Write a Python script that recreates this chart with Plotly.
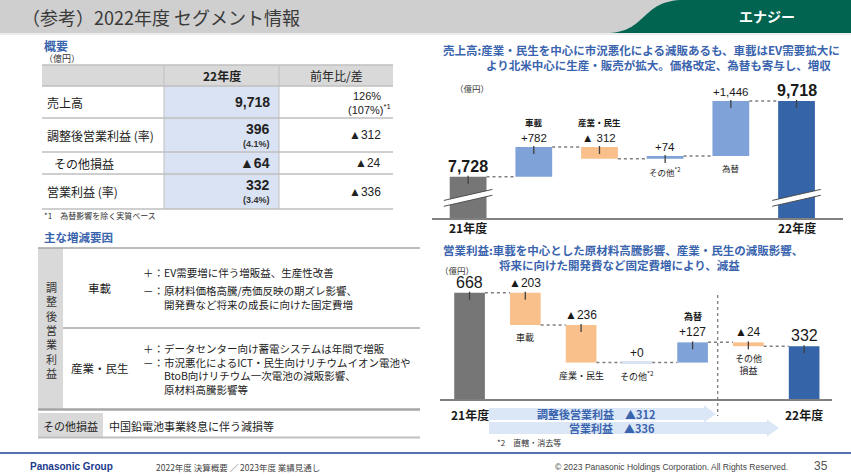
import plotly.graph_objects as go

W, H = 851, 476

# ---------------- data ----------------
sales_steps = ["21年度", "車載", "産業・民生", "その他", "為替", "22年度"]
sales_values = [7728, 782, -312, 74, 1446, 9718]
sales_measure = ["absolute", "relative", "relative", "relative", "relative", "total"]
sales_names = ["", "車載", "産業・民生", "その他<sup>*2</sup>", "為替", ""]
sales_name_pos = ["", "above", "above", "below", "below", ""]

op_steps = ["21年度", "車載", "産業・民生", "その他", "為替", "その他損益", "22年度"]
op_values = [668, -203, -236, 0, 127, -24, 332]
op_measure = ["absolute", "relative", "relative", "relative", "relative", "relative", "total"]
op_names = ["", "車載", "産業・民生", "その他<sup>*2</sup>", "為替", "その他<br>損益", ""]
op_name_pos = ["", "below", "below", "below", "above", "below", ""]

summary_labels = ["売上高", "調整後営業利益 (率)", "その他損益", "営業利益 (率)"]
summary_fy22 = ["9,718", "396", "▲64", "332"]
summary_rate = ["", "(4.1%)", "", "(3.4%)"]
summary_yoy = ["126%", "▲312", "▲24", "▲336"]
summary_yoy_sub = ["(107%)<sup>*1</sup>", "", "", ""]

factor_rows = ["車載", "産業・民生"]
factor_blocks = [
    ["＋：EV需要増に伴う増販益、生産性改善",
     "－：原材料価格高騰/売価反映の期ズレ影響、<br>　　開発費など将来の成長に向けた固定費増"],
    ["＋：データセンター向け蓄電システムは年間で増販<br>"
     "－：市況悪化によるICT・民生向けリチウムイオン電池や<br>"
     "　　BtoB向けリチウム一次電池の減販影響、<br>"
     "　　原材料高騰影響等"],
]

C_GRAY, C_UP, C_DOWN, C_TOTAL, C_ZERO = "#767676", "#7fa3d8", "#fac08c", "#3664a8", "#dae3f3"
C_TITLE = "#3a64ad"
FONT = "Liberation Sans, Noto Sans CJK JP, sans-serif"
JFONT = "Noto Sans CJK JP, sans-serif"


def X(px):
    return px / W


def Y(py):
    return 1 - py / H


def waterfall(values, measure, floor):
    starts, ends, level = [], [], 0
    for v, m in zip(values, measure):
        if m == "absolute":
            s, e = floor, v
            level = v
        elif m == "total":
            s, e = floor, level
        else:
            s, e = level, level + v
            level = e
        starts.append(s)
        ends.append(e)
    return starts, ends


def fmt(v, m, sep):
    if m in ("absolute", "total"):
        return f"{v:,}"
    return f"+{v:,}" if v >= 0 else f"▲{sep}{abs(v):,}"


annotations = []
shapes = []


def txt(x, y, text, size, color="#222", xanchor="left", yanchor="middle",
        xref="paper", yref="paper", family=FONT, yshift=0, align="left"):
    annotations.append(dict(x=x, y=y, text=text, xref=xref, yref=yref, showarrow=False,
                            xanchor=xanchor, yanchor=yanchor, yshift=yshift, align=align,
                            font=dict(size=size, color=color, family=family)))


def rect(x0, y0, x1, y1, fill, layer="below"):
    shapes.append(dict(type="rect", xref="paper", yref="paper", x0=X(x0), x1=X(x1),
                       y0=Y(y0), y1=Y(y1), fillcolor=fill, line=dict(width=0), layer=layer))


def hline(x0, x1, y, color, width):
    shapes.append(dict(type="line", xref="paper", yref="paper", x0=X(x0), x1=X(x1),
                       y0=Y(y), y1=Y(y), line=dict(color=color, width=width), layer="below"))


def vline(x, y0, y1, color, width, dash="solid"):
    shapes.append(dict(type="line", xref="paper", yref="paper", x0=X(x), x1=X(x),
                       y0=Y(y0), y1=Y(y1), line=dict(color=color, width=width, dash=dash),
                       layer="below"))


def path_px(points):
    d = "M " + " L ".join(f"{X(a):.5f},{Y(b):.5f}" for a, b in points) + " Z"
    return d


fig = go.Figure()

# chart configs
charts = [
    dict(values=sales_values, measure=sales_measure, names=sales_names, pos=sales_name_pos,
         xa="x", ya="y", yrange=[6642, 10060], dom_px=(218, 88), width=0.56, sep=" ",
         tot_bold=True, rel_size=11.5, name_size=8.5, broken=True, tick_px=227),
    dict(values=op_values, measure=op_measure, names=op_names, pos=op_name_pos,
         xa="x2", ya="y2", yrange=[0, 811], dom_px=(399, 270), width=0.55, sep="",
         tot_bold=False, rel_size=12, name_size=9, broken=False, tick_px=414),
]
chart_steps = [sales_steps, op_steps]

for ci, c in enumerate(charts):
    vals, meas = c["values"], c["measure"]
    floor = c["yrange"][0]
    starts, ends = waterfall(vals, meas, floor)
    n = len(vals)
    idx = list(range(n))
    span = c["yrange"][1] - c["yrange"][0]
    upx = span / (c["dom_px"][0] - c["dom_px"][1])  # data units per pixel
    w = c["width"]
    colors = []
    for v, m in zip(vals, meas):
        if m == "absolute":
            colors.append(C_GRAY)
        elif m == "total":
            colors.append(C_TOTAL)
        elif v > 0:
            colors.append(C_UP)
        elif v < 0:
            colors.append(C_DOWN)
        else:
            colors.append(C_ZERO)
    bases = [min(s, e) for s, e in zip(starts, ends)]
    heights = [abs(e - s) for s, e in zip(starts, ends)]
    fig.add_trace(go.Bar(x=idx, y=heights, base=bases, width=w, marker=dict(color=colors, line=dict(width=0)),
                         xaxis=c["xa"], yaxis=c["ya"], hoverinfo="skip", showlegend=False))
    # zero-value bars as thin light line
    for i in idx:
        if meas[i] == "relative" and vals[i] == 0:
            fig.add_trace(go.Scatter(x=[i - w / 2, i + w / 2], y=[starts[i], starts[i]], mode="lines",
                                     line=dict(color=C_ZERO, width=3), xaxis=c["xa"], yaxis=c["ya"],
                                     hoverinfo="skip", showlegend=False))
    # connectors
    cx, cy = [], []
    for i in range(n - 1):
        cx += [i + w / 2, i + 1 - w / 2, None]
        cy += [ends[i], ends[i], None]
    fig.add_trace(go.Scatter(x=cx, y=cy, mode="lines", line=dict(color="#7f7f7f", width=1.5, dash="dot"),
                             xaxis=c["xa"], yaxis=c["ya"], hoverinfo="skip", showlegend=False))
    # top tick marks
    tx, ty = [], []
    for i in idx:
        if vals[i] != 0:
            top = max(starts[i], ends[i])
            tx += [i, i, None]
            ty += [top + 1 * upx, top - 7 * upx, None]
    fig.add_trace(go.Scatter(x=tx, y=ty, mode="lines", line=dict(color="#404040", width=1.3),
                             xaxis=c["xa"], yaxis=c["ya"], hoverinfo="skip", showlegend=False))
    # labels
    for i in idx:
        top = max(starts[i], ends[i])
        bot = min(starts[i], ends[i])
        m = meas[i]
        label = fmt(vals[i] if m != "total" else ends[i], m, c["sep"])
        if m in ("absolute", "total"):
            t = f"<b>{label}</b>" if c["tot_bold"] else label
            txt(i, top, t, 16, "#1a1a1a", "center", "bottom", c["xa"], c["ya"], yshift=0)
        else:
            txt(i, top, label, c["rel_size"], "#1a1a1a", "center", "bottom", c["xa"], c["ya"], yshift=1)
        nm = c["names"][i]
        if nm:
            if c["pos"][i] == "above":
                txt(i, top, f"<b>{nm}</b>", c["name_size"], "#1a1a1a",
                    "center", "bottom", c["xa"], c["ya"], family=JFONT, yshift=17)
            else:
                txt(i, bot, nm, c["name_size"], "#1a1a1a", "center", "top", c["xa"], c["ya"],
                    family=JFONT, yshift=-4, align="center")
    # category labels under axis (first and last)
    for i in (0, n - 1):
        txt(i, Y(c["tick_px"]), f"<b>{chart_steps[ci][i]}</b>", 12, "#1a1a1a", "center", "middle",
            c["xa"], "paper", family=JFONT)
    # axis breaks
    if c["broken"]:
        for i in idx:
            if meas[i] in ("absolute", "total"):
                xl, xr = i - 0.37, i + 0.37
                y0 = floor + 0.09 * span
                rise, gap = 0.085 * span, 0.045 * span
                shapes.append(dict(type="path", xref=c["xa"], yref=c["ya"],
                                   path=f"M {xl},{y0} L {xr},{y0 + rise} L {xr},{y0 + rise + gap} L {xl},{y0 + gap} Z",
                                   fillcolor="white", line=dict(width=0), layer="above"))
                for yy in (y0, y0 + gap):
                    shapes.append(dict(type="line", xref=c["xa"], yref=c["ya"], x0=xl, x1=xr,
                                       y0=yy, y1=yy + rise, line=dict(color="#505050", width=1),
                                       layer="above"))

# ---------------- header ----------------
rect(0, 0, W, 33, "#cfcfcf")
rect(0, 33, W, 35, "#ececec")
shapes.append(dict(type="path", xref="paper", yref="paper", layer="below",
                   path=f"M {X(606)},{Y(33)} C {X(648)},{Y(33)} {X(640)},{Y(0)} {X(684)},{Y(0)} "
                        f"L {X(851)},{Y(0)} L {X(851)},{Y(33)} Z",
                   fillcolor="#006450", line=dict(width=0)))
txt(X(20), Y(17), "（参考）2022年度 セグメント情報", 18, "#3a3a3a", family=JFONT)
txt(X(767), Y(16), "<b>エナジー</b>", 14, "white", "center", family=JFONT)

# ---------------- summary table ----------------
txt(X(42), Y(45), "<b>概要</b>", 12, C_TITLE, family=JFONT)
txt(X(42), Y(58), "（億円）", 9, "#333", family=JFONT)
rect(42, 65, 393, 86, "#d9d9d9")
rect(164, 86, 279, 209, "#dae3f3")
hline(42, 393, 65, "#bfbfbf", 1.5)
hline(42, 393, 86, "#bfbfbf", 1.5)
row_b = [86, 118, 152, 174, 209]
for yb in row_b[1:]:
    hline(42, 393, yb, "#bfbfbf", 1.5)
vline(164, 65, 209, "#bfbfbf", 1)
vline(279, 65, 209, "#bfbfbf", 1)
txt(X(222), Y(75.5), "<b>22年度</b>", 12, "#222", "center", family=JFONT)
txt(X(336), Y(75.5), "前年比/差", 12, "#222", "center", family=JFONT)
for r in range(4):
    yc = (row_b[r] + row_b[r + 1]) / 2
    lx = 52 if r == 2 else 45
    txt(X(lx), Y(yc), summary_labels[r], 12, "#222", family=JFONT)
    if summary_rate[r]:
        txt(X(272), Y(yc - 6), f"<b>{summary_fy22[r]}</b>", 14, "#222", "right")
        txt(X(272), Y(yc + 8.5), f"<b>{summary_rate[r]}</b>", 9, "#333", "right")
    else:
        txt(X(272), Y(yc), f"<b>{summary_fy22[r]}</b>", 14, "#222", "right")
    if summary_yoy_sub[r]:
        txt(X(383), Y(yc - 6), summary_yoy[r], 11, "#222", "right")
        txt(X(393), Y(yc + 7.5), summary_yoy_sub[r], 11, "#222", "right")
    else:
        txt(X(383), Y(yc), summary_yoy[r], 12, "#222", "right")
txt(X(42), Y(216), "*1　為替影響を除く実質ベース", 8, "#333", family=JFONT)

# ---------------- factor table ----------------
txt(X(42), Y(237), "<b>主な増減要因</b>", 11.5, C_TITLE, family=JFONT)
rect(38, 248, 63, 409, "#d9d9d9")
hline(38, 420, 248, "#a6a6a6", 1.5)
hline(63, 420, 328, "#a6a6a6", 1.5)
hline(38, 420, 409.5, "#a6a6a6", 2.5)
vert = "調整後営業利益"
txt(X(51), Y(329.5), "<br>".join(vert), 11, "#333", "center", family=JFONT, align="center")
factor_row_y = [288, 368]
factor_block_y = [[272, 297.5], [368.5]]
for r in range(2):
    txt(X(100), Y(factor_row_y[r]), factor_rows[r], 11.5, "#222", "center", family=JFONT)
    for blk, yy in zip(factor_blocks[r], factor_block_y[r]):
        txt(X(141), Y(yy), blk, 10.5, "#222", family=JFONT)
rect(38, 413, 103, 437, "#d9d9d9")
hline(38, 420, 437.5, "#bfbfbf", 2)
txt(X(70), Y(426), "その他損益", 11, "#222", "center", family=JFONT)
txt(X(107), Y(426), "中国鉛電池事業終息に伴う減損等", 11, "#222", family=JFONT)

# ---------------- chart titles and extras ----------------
txt(X(441), Y(50), "<b>売上高:産業・民生を中心に市況悪化による減販あるも、車載はEV需要拡大に</b>", 11.5, C_TITLE, family=JFONT)
txt(X(484), Y(65), "<b>より北米中心に生産・販売が拡大。価格改定、為替も寄与し、増収</b>", 11.5, C_TITLE, family=JFONT)
txt(X(453), Y(88), "（億円）", 8.5, "#333", family=JFONT)

txt(X(441), Y(250), "<b>営業利益:車載を中心とした原材料高騰影響、産業・民生の減販影響、</b>", 11.5, C_TITLE, family=JFONT)
txt(X(497), Y(265), "<b>将来に向けた開発費など固定費増により、減益</b>", 11.5, C_TITLE, family=JFONT)
txt(X(438), Y(270), "（億円）", 8.5, "#333", family=JFONT)

# dashed separator in chart 2 between 為替 and その他損益
shapes.append(dict(type="line", xref="x2", yref="paper", x0=4.45, x1=4.45, y0=Y(295), y1=Y(416),
                   line=dict(color="#7f7f7f", width=1.3, dash="dot"), layer="above"))

# arrows
C_ARW = "#dbe7f7"
shapes.append(dict(type="path", xref="paper", yref="paper", layer="below", fillcolor=C_ARW, line=dict(width=0),
                   path=path_px([(489, 408), (704, 408), (704, 405.5), (716, 414), (704, 422.5), (704, 420), (489, 420)])))
shapes.append(dict(type="path", xref="paper", yref="paper", layer="below", fillcolor=C_ARW, line=dict(width=0),
                   path=path_px([(489, 422), (767, 422), (767, 419.5), (779, 428), (767, 436.5), (767, 434), (489, 434)])))
txt(X(596), Y(414), "<b>調整後営業利益　▲312</b>", 11, C_TITLE, "center", family=JFONT)
txt(X(612), Y(428), "<b>営業利益　▲336</b>", 11, C_TITLE, "center", family=JFONT)
txt(X(495), Y(442), "*2　直轄・消去等", 8, "#333", family=JFONT)

# ---------------- footer ----------------
hline(0, W, 453, "#1f3f9a", 1.5)
txt(X(28), Y(466.5), "<b>Panasonic Group</b>", 10, "#1a3a8c")
txt(X(154), Y(466.5), "2022年度 決算概要 ／ 2023年度 業績見通し", 8.5, "#444", family=JFONT)
txt(X(790), Y(466.5), "© 2023 Panasonic Holdings Corporation. All Rights Reserved.", 8.5, "#444", "right")
txt(X(830), Y(466), "35", 12, "#555", "right")

axis_common = dict(showgrid=False, zeroline=False, showticklabels=False, ticks="", fixedrange=True)
fig.update_layout(
    width=W, height=H, margin=dict(l=0, r=0, t=0, b=0),
    paper_bgcolor="white", plot_bgcolor="rgba(0,0,0,0)", showlegend=False,
    barmode="overlay",
    xaxis=dict(domain=[X(432), X(842.5)], range=[-0.55, 5.7], anchor="y", showline=True,
               linecolor="#808080", linewidth=1.5, **axis_common),
    yaxis=dict(domain=[Y(218), Y(88)], range=charts[0]["yrange"], anchor="x", visible=False),
    xaxis2=dict(domain=[X(440), X(832)], range=[-0.53, 6.5], anchor="y2", showline=True,
                linecolor="#808080", linewidth=1.5, **axis_common),
    yaxis2=dict(domain=[Y(399), Y(270)], range=charts[1]["yrange"], anchor="x2", visible=False),
    annotations=annotations, shapes=shapes,
    font=dict(family=FONT),
)

fig.write_html("out.html", config={"displayModeBar": False},
               post_script="document.body.style.margin='0';document.body.style.overflow='hidden';")
